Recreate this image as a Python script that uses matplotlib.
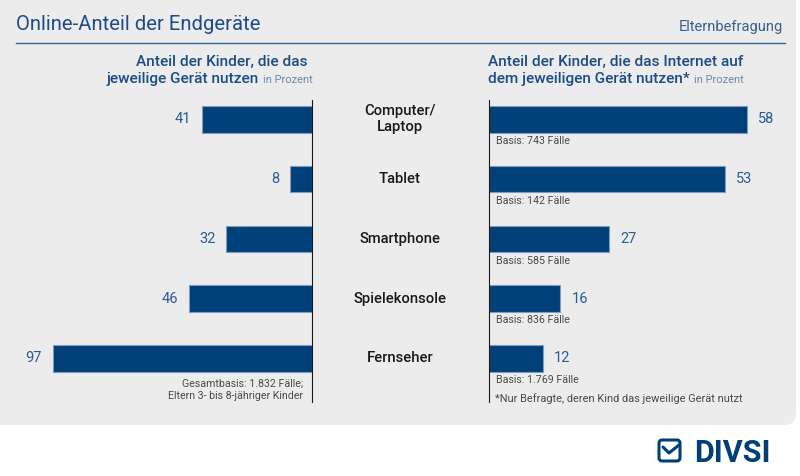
import matplotlib
matplotlib.use("Agg")
import matplotlib.pyplot as plt
from matplotlib.patches import FancyBboxPatch

# Daten
geraete = ["Computer/\nLaptop", "Tablet", "Smartphone", "Spielekonsole", "Fernseher"]
nutzung = [41, 8, 32, 46, 97]            # Anteil der Kinder, die das Gerät nutzen
internet = [58, 53, 27, 16, 12]          # Anteil mit Internetnutzung auf dem Gerät
basis = ["Basis: 743 Fälle", "Basis: 142 Fälle", "Basis: 585 Fälle",
         "Basis: 836 Fälle", "Basis: 1.769 Fälle"]

plt.rcParams["font.family"] = ["Roboto", "DejaVu Sans"]

bar_color = "#003f78"
edge_color = "#7f9cc0"
blue_txt = "#1b4c86"
num_txt = "#2a5b95"
gray_txt = "#4a4a4a"
hint_txt = "#7089a8"

W, H = 800, 476
fig = plt.figure(figsize=(W / 100, H / 100), dpi=100)
fig.patch.set_facecolor("white")

# Hintergrund-Achse in Pixelkoordinaten
bg = fig.add_axes([0, 0, 1, 1])
bg.set_xlim(0, W)
bg.set_ylim(H, 0)
bg.axis("off")
bg.add_patch(FancyBboxPatch((-10, -10), 806, 435, boxstyle="round,pad=0,rounding_size=12",
                            facecolor="#ececec", edgecolor="none"))

bg.text(16, 30, "Online-Anteil der Endgeräte", fontsize=14.6, color=blue_txt, va="baseline")
bg.text(783, 31.5, "Elternbefragung", fontsize=10.5, color="#3a5f8f", ha="right", va="baseline")
bg.plot([16, 785], [42.7, 42.7], color="#3a6597", lw=1)

# Überschriften
hfs = 11.1
bg.text(307, 65.7, "Anteil der Kinder, die das", fontsize=hfs, fontweight="medium",
        color=blue_txt, ha="right", va="baseline")
bg.text(259, 83.3, "jeweilige Gerät nutzen", fontsize=hfs, fontweight="medium",
        color=blue_txt, ha="right", va="baseline")
bg.text(263, 83.3, "in Prozent", fontsize=8, color=hint_txt, ha="left", va="baseline")

bg.text(488, 65.7, "Anteil der Kinder, die das Internet auf", fontsize=hfs, fontweight="medium",
        color=blue_txt, ha="left", va="baseline")
head2 = bg.text(488, 83.3, "dem jeweiligen Gerät nutzen*", fontsize=hfs, fontweight="medium",
                color=blue_txt, ha="left", va="baseline")
fig.canvas.draw()
head2_end = head2.get_window_extent().x1
bg.text(head2_end + 4, 83.3, "in Prozent", fontsize=8, color=hint_txt, ha="left", va="baseline")

# DIVSI-Logo
bg.add_patch(FancyBboxPatch((659, 440), 21, 21, boxstyle="round,pad=0,rounding_size=3",
                            facecolor="none", edgecolor=bar_color, lw=2.2))
bg.plot([663, 669, 679], [447, 453, 445], color=bar_color, lw=2.2, solid_capstyle="round")
bg.text(694, 462, "DIVSI", fontsize=22, fontweight="bold", color=bar_color, va="baseline")

# Balken-Achsen
top, bottom = 100, 402
row0, step = 119.3, 59.8
ylim = ((bottom - row0) / step, -(row0 - top) / step)

def px_axes(x0, x1):
    return fig.add_axes([x0 / W, 1 - bottom / H, (x1 - x0) / W, (bottom - top) / H])

ax_l = px_axes(20, 311.7)
ax_r = px_axes(489.3, 790)
for ax in (ax_l, ax_r):
    ax.set_facecolor("none")
    ax.set_ylim(*ylim)
    ax.set_xticks([])
    ax.set_yticks([])
    for s in ax.spines.values():
        s.set_visible(False)

ax_l.set_xlim(291.7 / 2.665, 0)
ax_r.set_xlim(0, 300.7 / 4.44)
ax_l.spines["right"].set_visible(True)
ax_l.spines["right"].set_color("#1a1a1a")
ax_r.spines["left"].set_visible(True)
ax_r.spines["left"].set_color("#1a1a1a")

rows = range(len(geraete))
ax_l.barh(rows, nutzung, height=0.446, color=bar_color, edgecolor=edge_color, lw=0.8)
ax_r.barh(rows, internet, height=0.446, color=bar_color, edgecolor=edge_color, lw=0.8)

for i, (v, w, b) in enumerate(zip(nutzung, internet, basis)):
    ax_l.annotate(str(v), (v, i), xytext=(-8, 0), textcoords="offset points",
                  ha="right", va="center", fontsize=10.5, color=num_txt)
    ax_r.annotate(str(w), (w, i), xytext=(8, 0), textcoords="offset points",
                  ha="left", va="center", fontsize=10.5, color=num_txt)
    ax_r.annotate(b, (0, i + 0.363), xytext=(5, 0), textcoords="offset points",
                  ha="left", va="center", fontsize=7.7, color=gray_txt)
    bg.text(400, row0 + i * step, geraete[i], fontsize=10.6, fontweight="medium",
            color="#1a1a1a", ha="center", va="center", linespacing=1.15)

ax_l.annotate("Gesamtbasis: 1.832 Fälle;\nEltern 3- bis 8-jähriger Kinder",
              (0, 4.53), xytext=(-6, 0), textcoords="offset points",
              ha="right", va="center", fontsize=7.7, color=gray_txt, linespacing=1.25)
ax_r.annotate("*Nur Befragte, deren Kind das jeweilige Gerät nutzt",
              (0, 4.668), xytext=(4, 0), textcoords="offset points",
              ha="left", va="center", fontsize=7.9, color=gray_txt)

fig.savefig("out.png", dpi=100)
